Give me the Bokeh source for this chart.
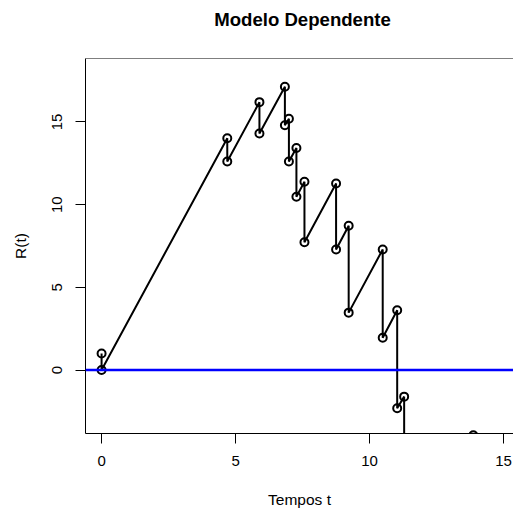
from bokeh.plotting import figure
from bokeh.layouts import column
from bokeh.models import Range1d, Span, FixedTicker, Label
from bokeh.embed import file_html
from bokeh.resources import INLINE

# Surplus process R(t): at each claim time the path holds the value just
# before the claim and the value just after it; between claims it grows linearly.
claim_times = [0.0, 4.69, 5.89, 6.84, 6.99, 7.27, 7.57, 8.75, 9.22, 10.49, 11.03, 11.29]
r_before = [1.0, 14.02, 16.20, 17.13, 15.20, 13.43, 11.39, 11.28, 8.73, 7.29, 3.61, -1.61]
r_after = [0.0, 12.61, 14.30, 14.80, 12.61, 10.48, 7.73, 7.29, 3.47, 1.95, -2.31, -11.70]
# last observed point (falls at the lower edge of the window)
end_time = 13.87
end_value = -3.95

x_ticks = [0, 5, 10, 15]
y_ticks = [0, 5, 10, 15]

path_t, path_r = [], []
for t, b, a in zip(claim_times, r_before, r_after):
    path_t += [t, t]
    path_r += [b, a]
path_t.append(end_time)
path_r.append(end_value)

FONT = "Liberation Sans"
Y_LO, Y_HI = -3.84, 18.84
W, HEAD, LEFT = 513, 58, 85

# heading strip: its frame lines up with the plot frame (x from LEFT to W),
# so the range is expressed in page pixels
head = figure(width=W, height=HEAD, output_backend="svg", toolbar_location=None,
              title=None, x_range=Range1d(LEFT, W), y_range=Range1d(0, HEAD),
              x_axis_location=None, y_axis_location=None, min_border=0,
              background_fill_color="white", border_fill_color="white")
head.outline_line_color = None
head.grid.visible = False
head.add_layout(Label(text="Modelo Dependente", x=302, y=HEAD - 19,
                      text_align="center", text_baseline="middle",
                      text_font=FONT, text_font_size="18.6px",
                      text_font_style="bold", text_color="black"))

p = figure(width=W, height=512 - HEAD, output_backend="svg", toolbar_location=None,
           title=None,
           x_range=Range1d(-0.6, 15.37), y_range=Range1d(Y_LO, Y_HI),
           min_border_left=LEFT, min_border_right=0, min_border_top=0,
           min_border_bottom=79, background_fill_color="white",
           border_fill_color="white")
p.outline_line_color = None
p.grid.visible = False

# top edge of the box (left and bottom edges are the axis lines)
p.add_layout(Span(location=Y_HI, dimension="width", line_color="black", line_width=1))

p.line(path_t, path_r, line_color="black", line_width=2)
p.scatter(path_t, path_r, marker="circle", size=8, fill_color=None,
          line_color="black", line_width=2)

p.add_layout(Span(location=0, dimension="width", line_color="blue", line_width=2.5))

for ax, ticks in ((p.xaxis[0], x_ticks), (p.yaxis[0], y_ticks)):
    ax.ticker = FixedTicker(ticks=ticks)
    ax.major_tick_out = 10
    ax.major_tick_in = 0
    ax.minor_tick_out = 0
    ax.minor_tick_in = 0
    ax.major_tick_line_color = "black"
    ax.axis_line_color = "black"
    ax.major_label_text_font = FONT
    ax.major_label_text_font_size = "15px"
    ax.major_label_text_color = "black"
    ax.axis_label_text_font = FONT
    ax.axis_label_text_font_size = "15.5px"
    ax.axis_label_text_font_style = "normal"
    ax.axis_label_text_color = "black"

p.xaxis.axis_label = "Tempos t"
p.xaxis.major_label_standoff = 12
p.xaxis.axis_label_standoff = 22
p.yaxis.axis_label = "R(t)"
p.yaxis.major_label_orientation = "vertical"
p.yaxis.major_label_standoff = 13
p.yaxis.axis_label_standoff = 21

page = column(head, p, spacing=0)
open("out.html", "w").write(file_html(page, INLINE))
